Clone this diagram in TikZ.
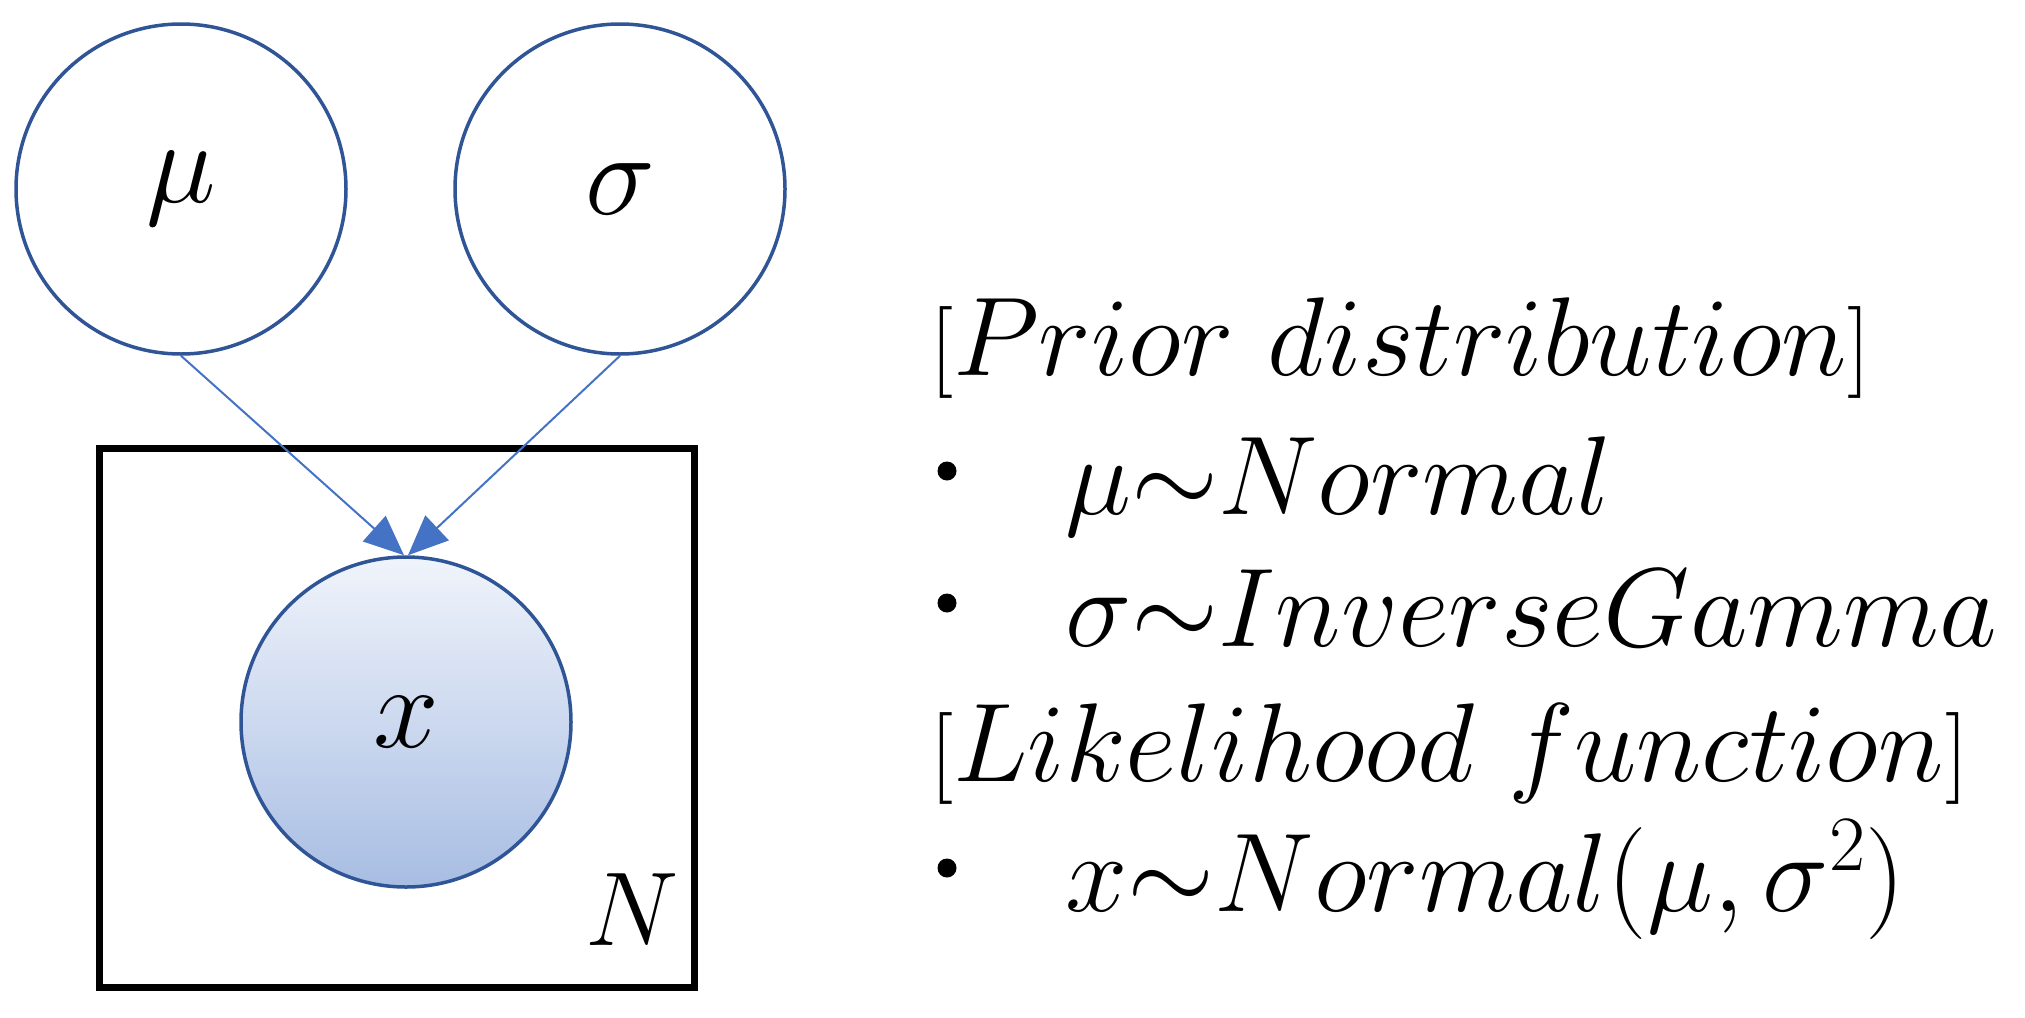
\documentclass[tikz,border=0pt]{standalone}
\usepackage{fix-cm}
\usetikzlibrary{arrows.meta}
\definecolor{nodeblue}{RGB}{47,85,151}
\definecolor{arrowblue}{RGB}{68,114,196}
\definecolor{gradtop}{RGB}{240,244,251}
\definecolor{gradbot}{RGB}{168,189,227}
\newcommand{\smallbr}[1]{\mbox{\fontsize{92}{100}\selectfont$#1$}}
\begin{document}
\begin{tikzpicture}[x=1pt,y=-1pt,
  varnode/.style={circle,draw=nodeblue,line width=3.5pt,minimum size=330pt,inner sep=0pt,font=\fontsize{118}{130}\selectfont},
  link/.style={draw=arrowblue,line width=2pt,-{Triangle[length=40pt,width=34pt]}},
  txt/.style={anchor=base west,inner sep=0pt,font=\fontsize{112}{120}\selectfont},
  dot/.style={circle,fill=black,minimum size=19pt,inner sep=0pt}]
\useasboundingbox (0,0) rectangle (2025,1017);
\node[draw=black,line width=7pt,minimum width=595pt,minimum height=539pt,inner sep=0pt] (plate) at (397,717.5) {};
\node[varnode,fill=white] (mu) at (181,189) {$\mu$};
\node[varnode,fill=white] (sigma) at (620,189) {$\sigma$};
\node[varnode,top color=gradtop,bottom color=gradbot] (x) at (406,722) {$x$};
\node[font=\fontsize{105}{120}\selectfont,inner sep=0pt] (N) at (632,910) {$N$};
\draw[link] (mu.south) -- ([xshift=-2pt]x.north);
\draw[link] (sigma.south) -- ([xshift=2pt]x.north);
\node[txt] (t1) at (930,375) {$\smallbr{[}Prior\ distribution\smallbr{]}$};
\node[dot] (b1) at (947,471) {};
\node[txt] (t2) at (1065,514) {$\mu{\sim}Normal$};
\node[dot] (b2) at (947,603) {};
\node[txt] (t3) at (1065,646) {$\sigma{\sim}InverseGamma$};
\node[txt] (t4) at (930,781) {$\smallbr{[}Likelihood\ function\smallbr{]}$};
\node[dot] (b3) at (947,868) {};
\node[txt] (t5) at (1065,911) {$x{\sim}Normal(\mu,\sigma^2)$};
\end{tikzpicture}
\end{document}
